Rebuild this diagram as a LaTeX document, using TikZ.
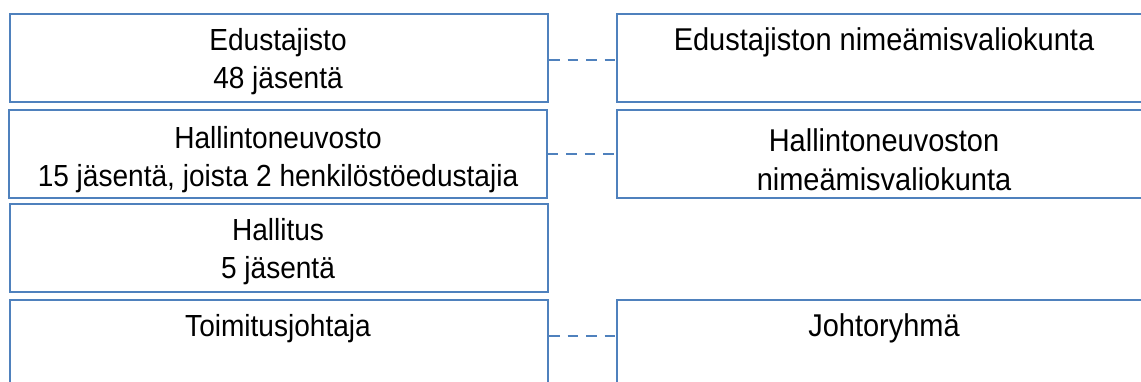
\documentclass[tikz,border=0pt]{standalone}
\usepackage{fontspec}
\setmainfont{Liberation Sans}[FakeStretch=0.92]
\definecolor{boxblue}{RGB}{79,129,189}
\begin{document}
\begin{tikzpicture}[x=1pt,y=-1pt,
  box/.style={draw=boxblue, line width=2pt, inner sep=0pt, anchor=north west},
  txt/.style={font=\fontsize{30.5}{37.6}\selectfont, align=center, anchor=base, inner sep=0pt},
  rtxt/.style={font=\fontsize{31.5}{38.5}\selectfont, align=center, anchor=base, inner sep=0pt},
  link/.style={draw=boxblue, line width=2.5pt, dash pattern=on 10.5pt off 8pt}]
\useasboundingbox (0,0) rectangle (1141,381);
\clip (0,0) rectangle (1141,381);
% left column
\node[box, minimum width=538pt, minimum height=87.4pt] (b1) at (9,13.3) {};
\node[box, minimum width=537.5pt, minimum height=87.7pt] (b2) at (8,109) {};
\node[box, minimum width=538pt, minimum height=87.4pt] (b3) at (9,203.3) {};
\node[box, minimum width=538pt, minimum height=100pt] (b4) at (9,299) {};
% right column
\node[box, minimum width=536pt, minimum height=87.4pt] (r1) at (616,13.3) {};
\node[box, minimum width=536pt, minimum height=87.7pt] (r2) at (616,109) {};
\node[box, minimum width=536pt, minimum height=100pt] (r4) at (616,299) {};
% texts (anchor base = last line)
\node[txt] (t1) at (278,88.3) {Edustajisto\\48 jäsentä};
\node[txt] (t2) at (278,186.5) {Hallintoneuvosto\\15 jäsentä, joista 2 henkilöstöedustajia};
\node[txt] (t3) at (278,278.5) {Hallitus\\5 jäsentä};
\node[txt] (t4) at (278,336.5) {Toimitusjohtaja};
\node[rtxt] (s1) at (884,50.7) {Edustajiston nimeämisvaliokunta};
\node[rtxt] (s2) at (884,190) {Hallintoneuvoston\\nimeämisvaliokunta};
\node[rtxt] (s4) at (884,336.5) {Johtoryhmä};
% connectors
\draw[link] ([yshift=-2pt]b1.east) -- ([yshift=-2pt]r1.west);
\draw[link] (b2.east) -- (r2.west);
\draw[link] ([yshift=14pt]b4.east) -- ([yshift=14pt]r4.west);
\end{tikzpicture}
\end{document}
